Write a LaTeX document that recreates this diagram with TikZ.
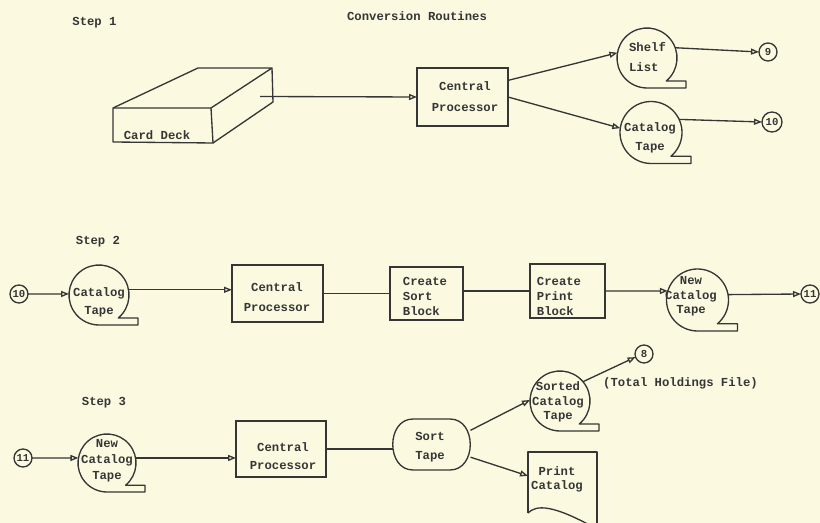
\documentclass[tikz,border=0pt]{standalone}
\usepackage{fontspec}
\usetikzlibrary{arrows.meta,calc}
\newfontfamily\tw{Liberation Mono}
\definecolor{bg}{HTML}{FBFAE1}
\definecolor{ink}{HTML}{363636}
\newcommand\tfont{\tw\bfseries\fontsize{9.2}{11}\selectfont}
\newcommand\cfont{\tw\bfseries\fontsize{8}{8}\selectfont}
\newcommand\tapeout[2]{\draw[ln] (#1.south) -- ++({#2+9},0) |- (#1.-50) arc[start angle=-50,end angle=270,radius={#2*0.75pt}];}
\tikzset{
  ln/.style={draw=ink, line width=1pt, line join=round},
  arr/.style={ln, -{Triangle[open,length=6pt,width=4.5pt]}},
  box/.style={rectangle, draw=ink, line width=1pt, inner sep=0pt, outer sep=0pt},
  tapenode/.style={circle, draw=none, inner sep=0pt, outer sep=0pt, minimum size=#1},
  conn/.style={circle, draw=ink, line width=1pt, inner sep=0pt, outer sep=0pt, minimum size=#1, font=\cfont, text=ink},
  conn/.default=13.5pt,
  txt/.style={font=\tfont, text=ink, align=center, inner sep=0pt},
  txtl/.style={font=\tfont, text=ink, align=left, inner sep=0pt},
}
\begin{document}
\begin{tikzpicture}[x=0.75pt,y=0.75pt]
\fill[bg] (0,0) rectangle (820,-523);
\useasboundingbox (0,0) rectangle (820,-523);

% headings
\node[txt] (h1) at (94.5,-23) {Step 1};
\node[txt] (hc) at (417,-16) {Conversion Routines};
\node[txt] (h2) at (98,-242) {Step 2};
\node[txt] (h3) at (104,-403) {Step 3};

% ---------- Step 1 ----------
\draw[ln] (113,-108) -- (211,-108) -- (213,-143) -- (113,-142) -- cycle;
\draw[ln] (113,-108) -- (198,-68) -- (272,-68) -- (211,-108);
\draw[ln] (272,-68) -- (273,-102) -- (213,-143);
\node[txt] (deck) at (157,-135) {Card Deck};
\coordinate (deckR) at (260,-96.5);

\node[box, minimum width=68.25pt, minimum height=43.5pt] (cp1) at (462.5,-97) {};
\node[txt] (tcp1) at (465,-96.5) {Central\\[4.5pt]Processor};

\node[tapenode=45pt] (st1) at (647,-58) {};
\tapeout{st1}{30}
\node[txtl] (tst1) at (647.5,-57) {Shelf\\[4pt]List};

\node[tapenode=46.5pt] (ct1) at (651,-132.5) {};
\tapeout{ct1}{31}
\node[txt] (tct1) at (650,-137.5) {Catalog\\[3.2pt]Tape};

\node[conn] (c9) at (768,-52) {9};
\node[conn=15pt] (c10) at (772,-122) {10};

\draw[arr] (deckR) -- (cp1.west);
\draw[arr] (cp1.20) -- (st1.170);
\draw[arr] (cp1.east) -- (ct1.172);
\draw[arr] (st1.20) -- (c9.west);
\draw[arr] (ct1.25) -- (c10.west);

% ---------- Step 2 ----------
\node[conn] (c10b) at (19,-294) {10};
\node[tapenode=45pt] (ct2) at (99,-295) {};
\tapeout{ct2}{30}
\node[txt] (tct2) at (99,-302) {Catalog\\[2.5pt]Tape};

\node[box, minimum width=68.25pt, minimum height=42.75pt] (cp2) at (277.5,-293.5) {};
\node[txt] (tcp2) at (277,-297) {Central\\[4pt]Processor};

\node[box, minimum width=54.75pt, minimum height=39.75pt] (csb) at (426.5,-293.5) {};
\node[txtl] (tcsb) at (425,-296.5) {Create\\Sort\\Block};

\node[box, minimum width=56.25pt, minimum height=40.5pt] (cpb) at (567.5,-291) {};
\node[txtl] (tcpb) at (559,-296.5) {Create\\Print\\Block};

\node[tapenode=46.5pt] (nct2) at (697.5,-300) {};
\tapeout{nct2}{31}
\node[txt] (tnct2) at (691,-296.5) {New\\Catalog\\Tape};

\node[conn] (c11) at (810,-294) {11};

\draw[arr] (c10b.east) -- (ct2.178);
\draw[arr] (ct2.10) -- (cp2.west |- ct2.10);
\draw[ln] (cp2.east) -- (csb.west);
\draw[ln] (csb.east |- cpb.west) -- (cpb.west);
\draw[arr] (cpb.east) -- (nct2.163);
\draw[arr] (nct2.10) -- (c11.west);

% ---------- Step 3 ----------
\node[conn] (c11b) at (23,-458) {11};
\node[tapenode=43.5pt] (nct3) at (107,-463) {};
\tapeout{nct3}{29}
\node[txt] (tnct3) at (107,-461) {New\\[1pt]Catalog\\[1pt]Tape};

\node[box, minimum width=67.5pt, minimum height=42pt] (cp3) at (281,-449) {};
\node[txt] (tcp3) at (283,-456) {Central\\[2.5pt]Processor};

\node[rectangle, draw=none, inner sep=0pt, outer sep=0pt, minimum width=58.5pt, minimum height=38.25pt] (sorttape) at (431.5,-444.5) {};
\draw[ln] (413,-419) -- (450,-419) .. controls (477,-419) and (477,-470) .. (450,-470) -- (413,-470) .. controls (386,-470) and (386,-419) .. (413,-419) -- cycle;
\node[txt] (tsort) at (430,-447.5) {Sort\\[3pt]Tape};

\node[tapenode=45pt] (sct) at (560,-401) {};
\tapeout{sct}{30}
\node[txt] (tsct) at (558,-402) {Sorted\\Catalog\\Tape};

\node[conn] (c8) at (644,-354) {8};
\node[txt] (thf) at (680.5,-383) {(Total Holdings File)};

\node[rectangle, draw=none, inner sep=0pt, outer sep=0pt, minimum width=51.75pt, minimum height=45pt] (pc) at (562.5,-482) {};
\draw[ln] (528,-513) -- (528,-452) -- (597,-452) -- (597,-535);
\draw[ln] (528,-513) .. controls (536,-505) and (552,-503) .. (602,-532);
\node[txt] (tpc) at (557,-479.5) {Print\\Catalog};

\draw[arr] (c11b.east) -- (nct3.170);
\draw[arr] (nct3.10) -- (cp3.west |- nct3.10);
\draw[ln] (cp3.east) -- (cp3.east -| sorttape.west);
\draw[arr] (sorttape.20) -- (sct.178);
\draw[arr] (sorttape.-18) -- (pc.170);
\draw[arr] (sct.40) -- (c8.200);
\end{tikzpicture}
\end{document}
